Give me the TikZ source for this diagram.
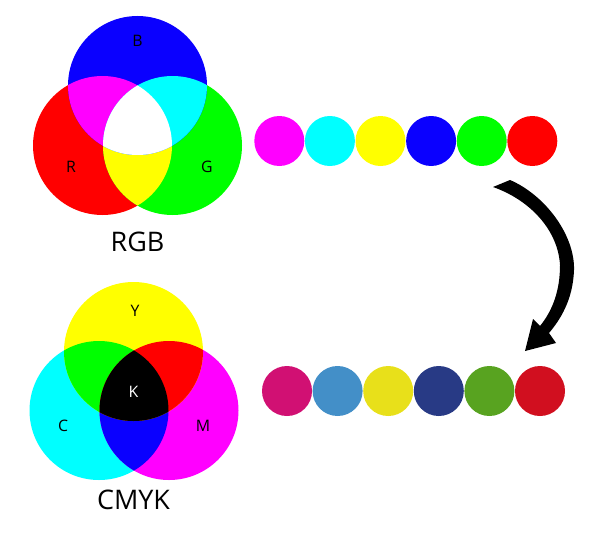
\documentclass[tikz,border=0pt]{standalone}
\usepackage{fontspec}
\setmainfont{Open Sans}
\usepackage{tikz}
\usetikzlibrary{positioning}
\definecolor{sred}{RGB}{255,0,0}
\definecolor{sgre}{RGB}{0,255,0}
\definecolor{sblu}{RGB}{10,0,255}
\definecolor{smag}{RGB}{255,0,255}
\definecolor{scya}{RGB}{0,255,255}
\definecolor{syel}{RGB}{255,255,0}
\definecolor{pmag}{RGB}{209,16,115}
\definecolor{pcya}{RGB}{67,143,200}
\definecolor{pyel}{RGB}{232,224,26}
\definecolor{pblu}{RGB}{40,58,133}
\definecolor{pgre}{RGB}{88,163,32}
\definecolor{pred}{RGB}{209,15,31}
\tikzstyle{dot}=[circle,minimum size=1.5cm,inner sep=0pt]
\tikzstyle{letter}=[font=\fontsize{13.5}{14}\selectfont]
\tikzstyle{title}=[font=\fontsize{23}{24}\selectfont]

\begin{document}
\begin{tikzpicture}[x=0.03cm,y=-0.03cm]
\useasboundingbox (0,0) rectangle (600,535);
\def\rr{69.5}
% RGB
\fill[sred] (102.5,145.5) circle (\rr);
\fill[sgre] (172.5,145.5) circle (\rr);
\fill[sblu] (137.5,85.5) circle (\rr);
\begin{scope}
  \clip (102.5,145.5) circle (\rr);
  \fill[syel] (172.5,145.5) circle (\rr);
  \fill[smag] (137.5,85.5) circle (\rr);
\end{scope}
\begin{scope}
  \clip (172.5,145.5) circle (\rr);
  \fill[scya] (137.5,85.5) circle (\rr);
  \clip (102.5,145.5) circle (\rr);
  \fill[white] (137.5,85.5) circle (\rr);
\end{scope}
\node[letter] (lb) at (137.5,41) {B};
\node[letter] (lr) at (71,167) {R};
\node[letter] (lg) at (207,167) {G};
\node[title] (rgb) at (137.5,242) {RGB};
% CMYK
\fill[scya] (99,410.5) circle (\rr);
\fill[smag] (169,410.5) circle (\rr);
\fill[syel] (133.5,351.5) circle (\rr);
\begin{scope}
  \clip (99,410.5) circle (\rr);
  \fill[sblu] (169,410.5) circle (\rr);
  \fill[sgre] (133.5,351.5) circle (\rr);
\end{scope}
\begin{scope}
  \clip (169,410.5) circle (\rr);
  \fill[sred] (133.5,351.5) circle (\rr);
  \clip (99,410.5) circle (\rr);
  \fill[black] (133.5,351.5) circle (\rr);
\end{scope}
\node[letter] (ly) at (135,311) {Y};
\node[letter,white] (lk) at (133.5,392) {K};
\node[letter] (lc) at (63,426) {C};
\node[letter] (lm) at (203,426) {M};
\node[title] (cmyk) at (133.5,500) {CMYK};
% colour rows
\foreach \c [count=\i] in {smag,scya,syel,sblu,sgre,sred}
  \node[dot,fill=\c] (screen\i) at ({279.3+50.6*(\i-1)},141) {};
\foreach \c [count=\i] in {pmag,pcya,pyel,pblu,pgre,pred}
  \node[dot,fill=\c] (print\i) at ({287+50.6*(\i-1)},391) {};
% arrow
\fill[black] (493,187) -- (510,180)
  .. controls (545,195) and (575,235) .. (574,270)
  .. controls (573,300) and (560,320) .. (549,333)
  -- (556,343) -- (525,351) -- (533,319) -- (540,326)
  .. controls (553,310) and (560,290) .. (560,265)
  .. controls (558,230) and (530,200) .. cycle;
\end{tikzpicture}
\end{document}
